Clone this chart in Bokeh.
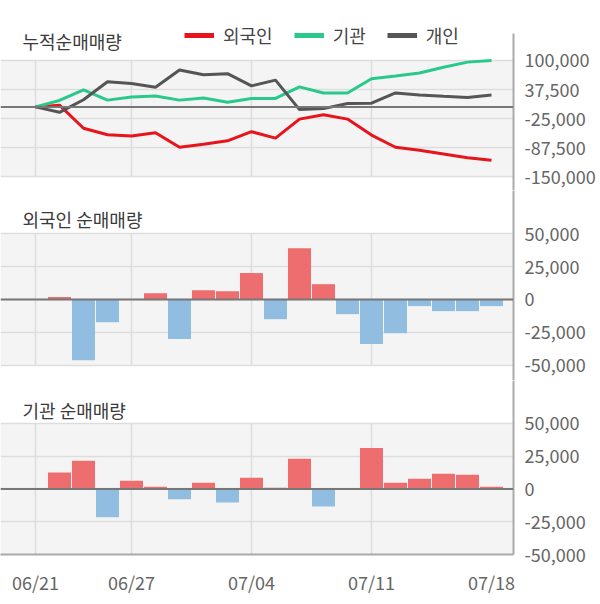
from bokeh.plotting import figure
from bokeh.layouts import column
from bokeh.models import (FixedTicker, NumeralTickFormatter, Span, BoxAnnotation,
                          Label, Legend, LegendItem, Range1d, ColumnDataSource)
from bokeh.embed import file_html
from bokeh.resources import INLINE

# ---------------- data ----------------
dates = ["06/21", "06/24", "06/25", "06/26", "06/27", "06/28", "07/01", "07/02",
         "07/03", "07/04", "07/05", "07/08", "07/09", "07/10", "07/11", "07/12",
         "07/15", "07/16", "07/17", "07/18"]

foreign_cum = [0, 3700, -46000, -60000, -62900, -55600, -87000, -80400, -73100, -53400,
               -67300, -26300, -16800, -26300, -60700, -87000, -93600, -101600, -109600, -114800]
inst_cum = [0, 13900, 36500, 14600, 21200, 23400, 14600, 19000, 10200, 18300,
            18300, 43100, 30000, 30000, 60700, 66500, 73100, 85500, 96500, 100200]
indiv_cum = [0, -11700, 15400, 54100, 50400, 42400, 79700, 69400, 71600, 45300,
             57700, -5800, -3700, 7300, 8000, 30000, 25600, 22700, 20500, 25600]

foreign_daily = [0, 1800, -46000, -17200, 0, 4800, -30000, 7100, 6300, 20000,
                 -14900, 38900, 11600, -11100, -33800, -25500, -5000, -8800, -8800, -5000]
inst_daily = [0, 12600, 21500, -21500, 6300, 1800, -7800, 4800, -10400, 8600,
              1000, 23000, -13400, 0, 31300, 4800, 7800, 11600, 10900, 1800]

label_idx = [0, 4, 9, 14, 19]
grid_idx = [0, 4, 9, 14]
cum_ticks = [100000, 37500, -25000, -87500, -150000]
bar_ticks = [50000, 25000, 0, -25000, -50000]

series_names = ["외국인", "기관", "개인"]
panel_titles = ["누적순매매량", "외국인 순매매량", "기관 순매매량"]

# ---------------- style ----------------
FONT = "Noto Sans CJK KR"
W = 600
BORDER_R = 87
X_RANGE = (-1.4583, 19.9167)
BG = "#f4f4f4"
GRID = "#dddddd"
AXIS = "#aaaaaa"
TXT = "#666666"
TITLE = "#3a3a3a"
LINE_COLORS = ["#e8141b", "#28c98b", "#555555"]
POS = "#ee6e70"
NEG = "#91bde0"

idx = list(range(len(dates)))
nan = float("nan")


def make_fig(height, y0, y1, bottom_b, ticks, show_x, title, title_y, bounds=None):
    p = figure(width=W, height=height, x_range=Range1d(*X_RANGE), y_range=Range1d(y0, y1),
               output_backend="svg", toolbar_location=None, y_axis_location="right",
               x_axis_location="below" if show_x else None,
               min_border_left=0, min_border_right=BORDER_R,
               min_border_top=0, min_border_bottom=bottom_b,
               outline_line_color=None, background_fill_color="white",
               border_fill_color="white")
    p.add_layout(BoxAnnotation(bottom=min(ticks), top=max(ticks), fill_color=BG,
                               fill_alpha=1, line_color=None, level="image"))
    ya = p.yaxis[0]
    ya.ticker = FixedTicker(ticks=ticks)
    ya.formatter = NumeralTickFormatter(format="0,0")
    if bounds is not None:
        ya.bounds = bounds
    ya.axis_line_color = AXIS
    ya.axis_line_width = 2
    ya.major_tick_line_color = None
    ya.minor_tick_line_color = None
    ya.major_label_text_color = TXT
    ya.major_label_text_font = FONT
    ya.major_label_text_font_size = "18px"
    ya.major_label_standoff = 5
    p.ygrid.ticker = FixedTicker(ticks=ticks)
    p.ygrid.grid_line_color = GRID
    p.ygrid.grid_line_width = 1.5
    p.xgrid.visible = False
    p.segment(x0=grid_idx, x1=grid_idx, y0=[min(ticks)] * len(grid_idx),
              y1=[max(ticks)] * len(grid_idx), line_color=GRID, line_width=1.5)
    if show_x:
        xa = p.xaxis[0]
        xa.ticker = FixedTicker(ticks=label_idx)
        xa.major_label_overrides = {i: dates[i] for i in label_idx}
        xa.axis_line_color = AXIS
        xa.axis_line_width = 2
        xa.major_tick_line_color = None
        xa.minor_tick_line_color = None
        xa.major_label_text_color = TXT
        xa.major_label_text_font = FONT
        xa.major_label_text_font_size = "18px"
        xa.major_label_standoff = 8
    p.add_layout(Label(x=22, y=title_y, x_units="screen", y_units="screen", text=title,
                       text_font=FONT, text_font_size="18px", text_color=TITLE,
                       text_baseline="middle"))
    return p


def zero_line(p):
    p.add_layout(Span(location=0, dimension="width", line_color="#777777", line_width=2))


# ---------- top: cumulative ----------
pA = make_fig(190, -180172, 229310, 0, cum_ticks, False, panel_titles[0], 150,
              bounds=(-180172, 158190))
zero_line(pA)
for ys, c in zip([foreign_cum, inst_cum, indiv_cum], LINE_COLORS):
    pA.line(x=idx, y=ys, line_color=c, line_width=3)
# legend swatches (thicker than the plotted lines, no visible data)
swatches = [pA.line(x=idx[:2], y=[nan, nan], line_color=c, line_width=5) for c in LINE_COLORS]
legend = Legend(items=[LegendItem(label=n, renderers=[r]) for n, r in zip(series_names, swatches)],
                orientation="horizontal", location=(184, 142),
                label_text_font=FONT, label_text_font_size="18px", label_text_color="#444444",
                glyph_width=30, glyph_height=22, label_height=22, label_standoff=9, spacing=21,
                padding=0, margin=0, border_line_color=None, background_fill_alpha=0)
pA.add_layout(legend)


def bars(p, vals):
    src = ColumnDataSource(dict(x=idx, top=vals,
                                color=[POS if v > 0 else NEG for v in vals]))
    p.vbar(x="x", top="top", bottom=0, width=0.96, fill_color="color", line_color=None,
           source=src)
    zero_line(p)


# ---------- middle: foreign ----------
pB = make_fig(190, -61364, 82576, 0, bar_ticks, False, panel_titles[1], 162)
bars(pB, foreign_daily)

# ---------- bottom: institution ----------
pC = make_fig(224, -50000, 82824, 50, bar_ticks, True, panel_titles[2], 145)
bars(pC, inst_daily)

layout = column(pA, pB, pC, spacing=0)
open("out.html", "w").write(file_html(layout, INLINE))
